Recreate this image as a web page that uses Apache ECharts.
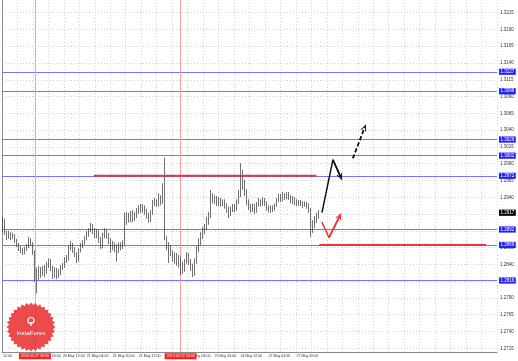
<!DOCTYPE html>
<html><head><meta charset="utf-8">
<script src="https://cdn.jsdelivr.net/npm/echarts@6/dist/echarts.min.js"></script>
<style>html,body{margin:0;padding:0;background:#fff}#c{width:518px;height:361px}</style>
</head><body><div id="c"></div>
<script>
// [open, close, low, high]
const candles = [
[1.2891,1.2906,1.2888,1.2911],[1.2906,1.2887,1.2884,1.2908],[1.2887,1.2882,1.2876,1.2890],[1.2882,1.2885,1.2878,1.2890],
[1.2885,1.2881,1.2876,1.2888],[1.2881,1.2884,1.2878,1.2887],[1.2884,1.2875,1.2872,1.2885],[1.2875,1.2869,1.2866,1.2878],
[1.2869,1.2864,1.2860,1.2872],[1.2864,1.2861,1.2857,1.2867],[1.2861,1.2858,1.2854,1.2864],[1.2858,1.2863,1.2855,1.2866],
[1.2863,1.2867,1.2860,1.2870],[1.2867,1.2876,1.2864,1.2881],[1.2876,1.2870,1.2867,1.2879],[1.2870,1.2858,1.2854,1.2873],
[1.2858,1.2824,1.2814,1.2861],[1.2824,1.2821,1.2797,1.2835],[1.2821,1.2832,1.2817,1.2838],[1.2832,1.2826,1.2820,1.2836],
[1.2826,1.2833,1.2823,1.2838],[1.2833,1.2829,1.2821,1.2839],[1.2829,1.2838,1.2826,1.2844],[1.2838,1.2845,1.2835,1.2849],
[1.2845,1.2835,1.2830,1.2848],[1.2835,1.2824,1.2818,1.2838],[1.2824,1.2832,1.2820,1.2836],[1.2832,1.2823,1.2818,1.2835],
[1.2823,1.2829,1.2820,1.2833],[1.2829,1.2835,1.2824,1.2839],[1.2835,1.2838,1.2832,1.2842],[1.2838,1.2846,1.2835,1.2851],
[1.2846,1.2849,1.2842,1.2854],[1.2849,1.2864,1.2846,1.2869],[1.2864,1.2870,1.2861,1.2875],[1.2870,1.2861,1.2857,1.2872],
[1.2861,1.2855,1.2851,1.2866],[1.2855,1.2848,1.2842,1.2858],[1.2848,1.2861,1.2844,1.2864],[1.2861,1.2867,1.2858,1.2872],
[1.2867,1.2872,1.2864,1.2876],[1.2872,1.2879,1.2869,1.2882],[1.2879,1.2885,1.2876,1.2890],[1.2885,1.2891,1.2881,1.2894],
[1.2891,1.2897,1.2888,1.2902],[1.2897,1.2890,1.2885,1.2900],[1.2890,1.2884,1.2879,1.2894],[1.2884,1.2890,1.2879,1.2893],
[1.2890,1.2876,1.2872,1.2891],[1.2876,1.2866,1.2863,1.2881],[1.2866,1.2884,1.2864,1.2887],[1.2884,1.2890,1.2879,1.2894],
[1.2890,1.2882,1.2878,1.2893],[1.2882,1.2875,1.2870,1.2887],[1.2875,1.2866,1.2857,1.2879],[1.2866,1.2870,1.2861,1.2875],
[1.2870,1.2864,1.2858,1.2873],[1.2864,1.2861,1.2844,1.2870],[1.2861,1.2869,1.2857,1.2873],[1.2869,1.2866,1.2861,1.2873],
[1.2866,1.2872,1.2863,1.2876],[1.2872,1.2903,1.2869,1.2917],[1.2903,1.2911,1.2899,1.2918],[1.2911,1.2906,1.2902,1.2917],
[1.2906,1.2915,1.2903,1.2920],[1.2915,1.2908,1.2903,1.2921],[1.2908,1.2912,1.2905,1.2918],[1.2912,1.2918,1.2909,1.2924],
[1.2918,1.2924,1.2915,1.2928],[1.2924,1.2920,1.2917,1.2930],[1.2920,1.2926,1.2917,1.2930],[1.2926,1.2918,1.2914,1.2928],
[1.2918,1.2912,1.2908,1.2923],[1.2912,1.2906,1.2902,1.2917],[1.2906,1.2917,1.2903,1.2921],[1.2917,1.2930,1.2914,1.2936],
[1.2930,1.2934,1.2927,1.2939],[1.2934,1.2930,1.2926,1.2937],[1.2930,1.2939,1.2926,1.2946],[1.2939,1.2933,1.2928,1.2943],
[1.2933,1.2951,1.2930,1.2961],[1.2951,1.2879,1.2876,1.2999],[1.2879,1.2869,1.2861,1.2882],[1.2869,1.2864,1.2842,1.2873],
[1.2864,1.2858,1.2852,1.2869],[1.2858,1.2849,1.2844,1.2861],[1.2849,1.2854,1.2841,1.2858],[1.2854,1.2844,1.2838,1.2857],
[1.2844,1.2849,1.2835,1.2854],[1.2849,1.2838,1.2824,1.2852],[1.2838,1.2832,1.2826,1.2844],[1.2832,1.2844,1.2829,1.2848],
[1.2844,1.2852,1.2841,1.2858],[1.2852,1.2845,1.2839,1.2857],[1.2845,1.2835,1.2830,1.2848],[1.2835,1.2830,1.2821,1.2841],
[1.2830,1.2844,1.2823,1.2849],[1.2844,1.2861,1.2841,1.2867],[1.2861,1.2873,1.2858,1.2879],[1.2873,1.2882,1.2869,1.2888],
[1.2882,1.2890,1.2878,1.2896],[1.2890,1.2894,1.2885,1.2900],[1.2894,1.2903,1.2891,1.2911],[1.2903,1.2914,1.2899,1.2918],
[1.2914,1.2942,1.2909,1.2951],[1.2942,1.2934,1.2931,1.2946],[1.2934,1.2939,1.2930,1.2943],[1.2939,1.2931,1.2927,1.2942],
[1.2931,1.2936,1.2927,1.2940],[1.2936,1.2930,1.2926,1.2939],[1.2930,1.2934,1.2927,1.2937],[1.2934,1.2927,1.2923,1.2937],
[1.2927,1.2921,1.2917,1.2931],[1.2921,1.2915,1.2909,1.2926],[1.2915,1.2921,1.2912,1.2926],[1.2921,1.2926,1.2918,1.2930],
[1.2926,1.2923,1.2918,1.2930],[1.2923,1.2933,1.2920,1.2937],[1.2933,1.2943,1.2930,1.2951],[1.2943,1.2972,1.2940,1.2991],
[1.2972,1.2957,1.2951,1.2981],[1.2957,1.2946,1.2942,1.2966],[1.2946,1.2933,1.2928,1.2952],[1.2933,1.2926,1.2921,1.2937],
[1.2926,1.2921,1.2917,1.2930],[1.2921,1.2927,1.2918,1.2931],[1.2927,1.2920,1.2915,1.2930],[1.2920,1.2928,1.2917,1.2933],
[1.2928,1.2934,1.2926,1.2939],[1.2934,1.2930,1.2926,1.2937],[1.2930,1.2936,1.2927,1.2940],[1.2936,1.2931,1.2927,1.2939],
[1.2931,1.2924,1.2920,1.2934],[1.2924,1.2920,1.2917,1.2928],[1.2920,1.2926,1.2917,1.2928],[1.2926,1.2923,1.2918,1.2928],
[1.2923,1.2928,1.2920,1.2931],[1.2928,1.2936,1.2926,1.2939],[1.2936,1.2940,1.2933,1.2945],[1.2940,1.2937,1.2933,1.2945],
[1.2937,1.2943,1.2934,1.2948],[1.2943,1.2940,1.2936,1.2946],[1.2940,1.2945,1.2937,1.2948],[1.2945,1.2939,1.2936,1.2948],
[1.2939,1.2934,1.2931,1.2943],[1.2934,1.2937,1.2930,1.2942],[1.2937,1.2931,1.2928,1.2940],[1.2931,1.2934,1.2927,1.2937],
[1.2934,1.2930,1.2927,1.2936],[1.2930,1.2933,1.2927,1.2936],[1.2933,1.2928,1.2924,1.2934],[1.2928,1.2931,1.2926,1.2934],
[1.2931,1.2927,1.2923,1.2933],[1.2927,1.2921,1.2917,1.2931],[1.2921,1.2891,1.2881,1.2924],[1.2891,1.2900,1.2887,1.2906],
[1.2900,1.2906,1.2894,1.2912],[1.2906,1.2912,1.2902,1.2917],[1.2912,1.2917,1.2908,1.2921]
];
const totalBars = 248;
const timeLabelBars = [0, 18, 30, 42, 55, 68, 93, 106, 119, 133, 147];
const timeLabelTexts = ['12:00','17 May 20:00','20 May 12:00','21 May 04:00','21 May 20:00','22 May 12:00','23 May 04:00','23 May 20:00','24 May 12:00','27 May 04:00','27 May 20:00'];
const priceTicks = [1.2715,1.2740,1.2765,1.2790,1.2815,1.2840,1.2865,1.2890,1.2915,1.2940,1.2965,1.2990,1.3015,1.3040,1.3065,1.3090,1.3115,1.3140,1.3165,1.3190,1.3215];
const priceMin = 1.27095, priceMax = 1.32339;
const blueLevels = [1.3127, 1.3098, 1.3026, 1.3002, 1.2972, 1.2892, 1.2869, 1.2816];
const currentPrice = 1.2917;
const markerBars = [16, 89];
const markerTexts = ['2019.05.17 18:00', '2019.05.22 23:00'];
const resistanceSeg = [[46, 1.2972], [157.5, 1.2972]];
const supportSeg = [[159, 1.2869], [242.5, 1.2869]];
const blackArrow = [[160.3, 1.2917], [165.8, 1.2996], [169.7, 1.2970]];
const dashedArrow = [[175.8, 1.2998], [181.7, 1.3044]];
const redArrow = [[160.3, 1.2903], [163.8, 1.2880], [169.2, 1.2912]];

const categories = Array.from({length: totalBars}, (_, i) => String(i));
const labelMap = {};
timeLabelBars.forEach((b, k) => { labelMap[b] = timeLabelTexts[k]; });
const chevron = 'path://M0,10 L5,0 L10,10 L8.2,10 L5,3.6 L1.8,10 Z';
const FONT = 'Liberation Sans';

function arrowSeries(pts, color, type) {
  const n = pts.length;
  return {
    type: 'line', xAxisIndex: 1, yAxisIndex: 0, data: pts, symbol: 'none', silent: true,
    lineStyle: {color: color, width: 1.5, type: type}, z: 12, animation: false,
    markLine: {
      silent: true, animation: false, precision: 4, z: 12, symbol: ['none', chevron], symbolSize: [6, 7],
      label: {show: false},
      lineStyle: {color: color, width: 1.5, type: type},
      data: [[{coord: pts[n - 2]}, {coord: pts[n - 1]}]]
    }
  };
}

const markData = [];
blueLevels.forEach(v => markData.push({
  yAxis: v, lineStyle: {color: '#7474ff', width: 1, type: 'solid'},
  label: {show: true, position: 'end', distance: 2, formatter: p => Number(p.value).toFixed(4),
    backgroundColor: '#2222ff', color: '#fff', fontSize: 4.5, fontFamily: FONT, padding: [0.6, 1.5]}
}));
markData.push({
  yAxis: currentPrice, lineStyle: {color: 'rgba(0,0,0,0)', width: 0},
  label: {show: true, position: 'end', distance: 2, formatter: p => Number(p.value).toFixed(4),
    backgroundColor: '#000', color: '#fff', fontSize: 4.5, fontFamily: FONT, padding: [0.6, 1.5]}
});
markerBars.forEach((b, k) => markData.push({
  xAxis: b, lineStyle: {color: '#ff9c9c', width: 1, type: 'solid'},
  label: {show: true, position: 'start', distance: 1.2, formatter: markerTexts[k],
    backgroundColor: '#ff1f1f', color: '#fff', fontSize: 3.6, fontFamily: FONT, padding: [1, 2]}
}));

// InstaForex seal (decoration)
const sealPts = [];
for (let i = 0; i < 64; i++) {
  const r = i % 2 ? 22 : 24.5;
  const a = i * Math.PI / 32;
  sealPts.push([31 + r * Math.cos(a), 327 + r * Math.sin(a)]);
}

const chart = echarts.init(document.getElementById('c'), null, {renderer: 'canvas'});
chart.setOption({
  animation: false,
  backgroundColor: '#fff',
  grid: {left: 0, right: 21, top: 0, bottom: 9, containLabel: false},
  xAxis: [{
    type: 'category', data: categories, boundaryGap: true,
    axisLine: {show: true, lineStyle: {color: '#8a8a8a', width: 1}},
    axisTick: {show: false},
    axisLabel: {interval: (i) => labelMap[i] !== undefined, formatter: (v, i) => labelMap[i] || '',
      align: 'left', fontSize: 3.6, fontFamily: FONT, color: '#333', margin: 2},
    splitLine: {show: false}
  }, {
    type: 'value', min: 0, max: totalBars, interval: 7.75, position: 'bottom',
    axisLine: {show: false}, axisTick: {show: false}, axisLabel: {show: false},
    splitLine: {show: true, lineStyle: {color: '#d2d2d2', type: [1, 2], width: 1}}
  }],
  yAxis: [{
    type: 'value', position: 'right', min: priceMin, max: priceMax, scale: true,
    axisLine: {show: true, lineStyle: {color: '#8a8a8a', width: 1}},
    axisTick: {show: false, customValues: priceTicks},
    axisLabel: {customValues: priceTicks, formatter: v => v.toFixed(4), fontSize: 4.5,
      fontFamily: FONT, color: '#333', margin: 3},
    splitLine: {show: true, lineStyle: {color: '#d2d2d2', type: [1, 2], width: 1}}
  }],
  series: [{
    type: 'candlestick', xAxisIndex: 0, yAxisIndex: 0, data: candles, barWidth: 1.3, z: 2,
    itemStyle: {color: '#ffffff', color0: '#222222', borderColor: '#333333', borderColor0: '#333333', borderWidth: 0.7},
    markLine: {silent: true, animation: false, precision: 4, z: 1, symbol: 'none', data: markData}
  }, {
    type: 'line', xAxisIndex: 1, yAxisIndex: 0, data: resistanceSeg, symbol: 'none', silent: true,
    lineStyle: {color: '#e5393b', width: 2}, z: 10
  }, {
    type: 'line', xAxisIndex: 1, yAxisIndex: 0, data: supportSeg, symbol: 'none', silent: true,
    lineStyle: {color: '#e5393b', width: 2}, z: 10
  },
  arrowSeries(blackArrow, '#111111', 'solid'),
  arrowSeries(dashedArrow, '#111111', [4, 2.5]),
  arrowSeries(redArrow, '#ff2a2a', 'solid')
  ],
  graphic: [{
    type: 'polygon', shape: {points: sealPts}, style: {fill: 'rgba(232,50,50,0.88)'}, z: 50, silent: true
  }, {
    type: 'circle', shape: {cx: 31, cy: 320.5, r: 3}, style: {fill: 'none', stroke: '#fff', lineWidth: 1.2}, z: 51, silent: true
  }, {
    type: 'rect', shape: {x: 30.3, y: 322, width: 1.4, height: 4}, style: {fill: '#fff'}, z: 51, silent: true
  }, {
    type: 'text', x: 31, y: 333, style: {text: 'InstaForex', fill: '#fff', fontSize: 6.2, fontFamily: FONT, align: 'center', verticalAlign: 'middle'}, z: 51, silent: true
  }]
});
</script></body></html>
